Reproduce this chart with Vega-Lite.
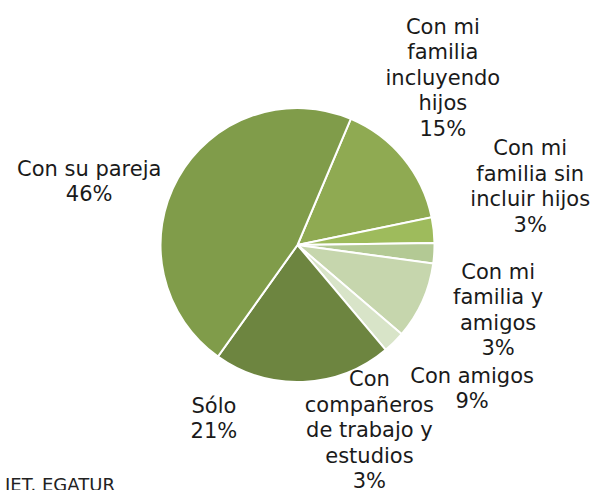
{
  "$schema": "https://vega.github.io/schema/vega-lite/v6.json",
  "width": 595,
  "height": 490,
  "autosize": "none",
  "padding": 0,
  "background": "white",
  "config": {"view": {"stroke": null}},
  "title": {"text": "IET. EGATUR", "orient": "bottom", "anchor": "start", "frame": "group", "offset": -20, "baseline": "alphabetic", "dx": 5, "font": "DejaVu Sans", "fontSize": 18, "fontWeight": "normal", "color": "#222222"},
  "data": {"values": [
    {"orden": 1, "cat": "Con mi familia incluyendo hijos", "value": 15.4, "label": "Con mi\nfamilia\nincluyendo\nhijos\n15%"},
    {"orden": 2, "cat": "Con mi familia sin incluir hijos", "value": 3.0, "label": "Con mi\nfamilia sin\nincluir hijos\n3%"},
    {"orden": 3, "cat": "Con mi familia y amigos", "value": 2.4, "label": "Con mi\nfamilia y\namigos\n3%"},
    {"orden": 4, "cat": "Con amigos", "value": 9.1, "label": "Con amigos\n9%"},
    {"orden": 5, "cat": "Con compañeros de trabajo y estudios", "value": 2.6, "label": "Con\ncompañeros\nde trabajo y\nestudios\n3%"},
    {"orden": 6, "cat": "Sólo", "value": 21.0, "label": "Sólo\n21%"},
    {"orden": 7, "cat": "Con su pareja", "value": 46.5, "label": "Con su pareja\n46%"}
  ]},
  "encoding": {
    "theta": {"field": "value", "type": "quantitative", "stack": true, "scale": {"range": [0.3997, 6.6829]}},
    "order": {"field": "orden", "type": "quantitative"}
  },
  "layer": [
    {
      "mark": {"type": "arc", "outerRadius": 137, "stroke": "white", "strokeWidth": 2},
      "encoding": {
        "color": {"field": "cat", "type": "nominal", "legend": null,
          "scale": {"domain": ["Con mi familia incluyendo hijos", "Con mi familia sin incluir hijos", "Con mi familia y amigos", "Con amigos", "Con compañeros de trabajo y estudios", "Sólo", "Con su pareja"],
                    "range": ["#8FAA52", "#9EBB5C", "#B3C994", "#C6D6AD", "#D8E4C8", "#6D8540", "#809C4A"]}}
      }
    },
    {
      "mark": {"type": "text", "radius": 210, "dx": -17, "dy": -84, "font": "DejaVu Sans", "fontSize": 21, "lineHeight": 25.5, "lineBreak": "\n", "align": "center", "baseline": "middle", "color": "#1a1a1a"},
      "encoding": {"text": {"condition": {"test": "datum.orden === 1", "field": "label"}, "value": ""}}
    },
    {
      "mark": {"type": "text", "radius": 210, "dx": 24, "dy": -73, "font": "DejaVu Sans", "fontSize": 21, "lineHeight": 25.5, "lineBreak": "\n", "align": "center", "baseline": "middle", "color": "#1a1a1a"},
      "encoding": {"text": {"condition": {"test": "datum.orden === 2", "field": "label"}, "value": ""}}
    },
    {
      "mark": {"type": "text", "radius": 210, "dx": -9, "dy": 15, "font": "DejaVu Sans", "fontSize": 21, "lineHeight": 25.5, "lineBreak": "\n", "align": "center", "baseline": "middle", "color": "#1a1a1a"},
      "encoding": {"text": {"condition": {"test": "datum.orden === 3", "field": "label"}, "value": ""}}
    },
    {
      "mark": {"type": "text", "radius": 210, "dx": -17, "dy": 46, "font": "DejaVu Sans", "fontSize": 21, "lineHeight": 25.5, "lineBreak": "\n", "align": "center", "baseline": "middle", "color": "#1a1a1a"},
      "encoding": {"text": {"condition": {"test": "datum.orden === 4", "field": "label"}, "value": ""}}
    },
    {
      "mark": {"type": "text", "radius": 210, "dx": -76, "dy": -14, "font": "DejaVu Sans", "fontSize": 21, "lineHeight": 25.5, "lineBreak": "\n", "align": "center", "baseline": "middle", "color": "#1a1a1a"},
      "encoding": {"text": {"condition": {"test": "datum.orden === 5", "field": "label"}, "value": ""}}
    },
    {
      "mark": {"type": "text", "radius": 210, "dx": -92, "dy": -48, "font": "DejaVu Sans", "fontSize": 21, "lineHeight": 25.5, "lineBreak": "\n", "align": "center", "baseline": "middle", "color": "#1a1a1a"},
      "encoding": {"text": {"condition": {"test": "datum.orden === 6", "field": "label"}, "value": ""}}
    },
    {
      "mark": {"type": "text", "radius": 210, "dx": -25, "dy": 27, "font": "DejaVu Sans", "fontSize": 21, "lineHeight": 25.5, "lineBreak": "\n", "align": "center", "baseline": "middle", "color": "#1a1a1a"},
      "encoding": {"text": {"condition": {"test": "datum.orden === 7", "field": "label"}, "value": ""}}
    }
  ]
}
